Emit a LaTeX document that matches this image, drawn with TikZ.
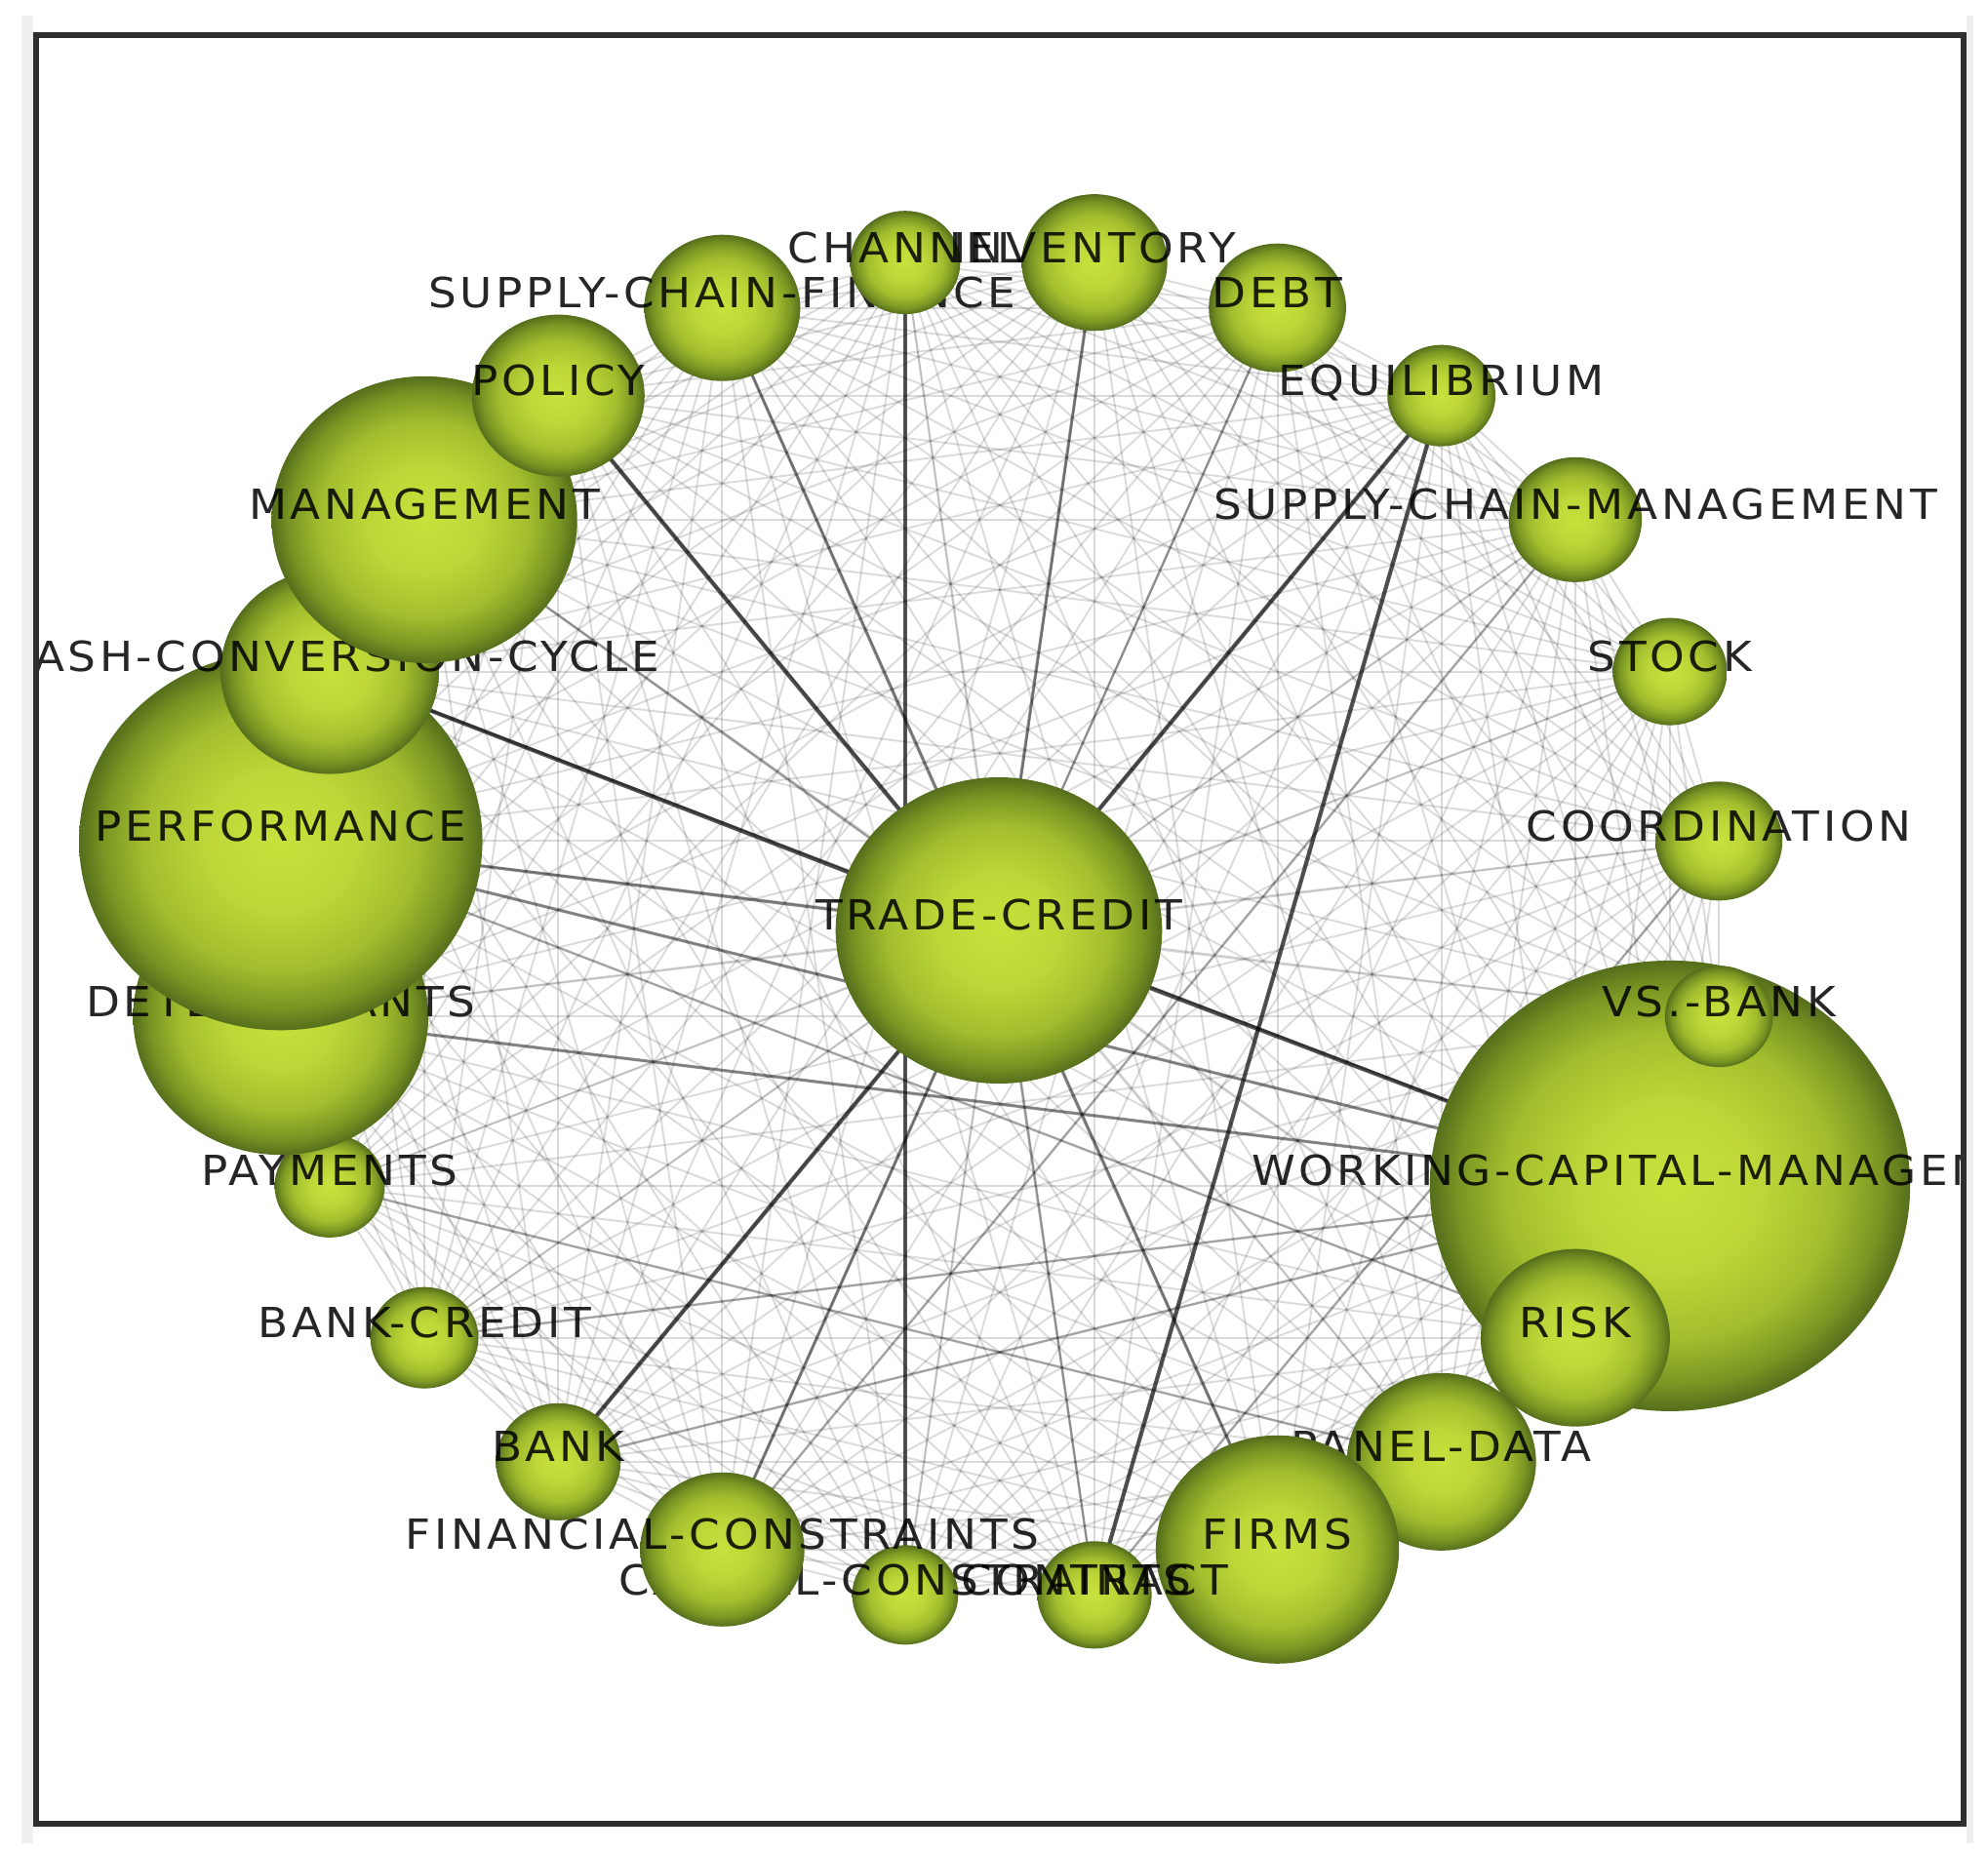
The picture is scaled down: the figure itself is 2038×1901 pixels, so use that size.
\documentclass[tikz,border=0pt]{standalone}
\usepackage{fontspec}
\newfontfamily\labfont{DejaVu Sans}[LetterSpace=8]
\definecolor{bc0}{RGB}{200,225,60}
\definecolor{bc1}{RGB}{190,215,56}
\definecolor{bc2}{RGB}{163,190,46}
\definecolor{bc3}{RGB}{122,150,35}
\definecolor{bc4}{RGB}{86,110,28}
\definecolor{framegray}{RGB}{46,46,46}
\definecolor{stripgray}{RGB}{239,239,239}
\pgfdeclareradialshading{sphereshade}{\pgfpoint{0bp}{0bp}}{color(0bp)=(bc0); color(9bp)=(bc1); color(17bp)=(bc2); color(22bp)=(bc3); color(25bp)=(bc4); color(50bp)=(bc4)}
\newcommand\drawkw[3]{%
  \shade[shading=sphereshade] (#1) ellipse [x radius={#2*0.01065cm}, y radius={#2*0.01cm}];
  \node[lab] (L#1) at (#1) {#3};}
\begin{document}
\begin{tikzpicture}[x=0.01cm,y=-0.01cm,
  lab/.style={font=\labfont\fontsize{12.1pt}{14pt}\selectfont, text=black, text opacity=0.85, anchor=base, inner sep=0pt, xscale=1.065},
  faint/.style={draw=black, draw opacity=0.14, line width=0.55pt},
  midedge/.style={draw=black, draw opacity=0.26, line width=0.7pt},
  strongedge/.style={draw=black, draw opacity=0.42, line width=0.9pt},
  darkedge/.style={draw=black, draw opacity=0.66, line width=1.2pt}]
\useasboundingbox (0,0) rectangle (2038,1901);
\fill[white] (0,0) rectangle (2038,1901);
\fill[stripgray] (22,16) rectangle (34,1890);
\fill[stripgray] (2016,16) rectangle (2023,1890);
\def\cx{1025}\def\cy{952.25}\def\rx{743.6}\def\ry{689}
\coordinate (tc) at (1024,954);
\foreach \n/\a in {wcm/-22.5, risk/-37.5, panel/-52.5, firms/-67.5, contract/-82.5, capcons/-97.5, fincons/-112.5, bank/-127.5, bankcredit/-142.5, payments/-157.5, det/-172.5, perf/172.5, ccc/157.5, mgmt/142.5, policy/127.5, scf/112.5, channel/97.5, inv/82.5, debt/67.5, equil/52.5, scm/37.5, stock/22.5, coord/7.5, vsb/-7.5}
  {\coordinate (\n) at ({\cx+\rx*cos(\a)},{\cy-\ry*sin(\a)});}
\def\allnodes{tc,wcm,risk,panel,firms,contract,capcons,fincons,bank,bankcredit,payments,det,perf,ccc,mgmt,policy,scf,channel,inv,debt,equil,scm,stock,coord,vsb}
\begin{scope}
\clip (40,39) rectangle (2010,1867);
% faint complete graph
\foreach \a [count=\i] in \allnodes {
  \foreach \b [count=\j] in \allnodes {
    \ifnum\i<\j \draw[faint] (\a) -- (\b); \fi
  }
}
% medium edges
\foreach \a/\b in {perf/risk, tc/contract, tc/debt, coord/contract, mgmt/tc, scm/fincons, payments/panel, wcm/bank, ccc/wcm, bankcredit/wcm}
  {\draw[midedge] (\a) -- (\b);}
\foreach \a/\b in {perf/tc, perf/wcm, scf/tc, inv/tc, tc/fincons, tc/firms, det/wcm}
  {\draw[strongedge] (\a) -- (\b);}
\foreach \a/\b in {ccc/tc, tc/equil, equil/contract, tc/bank, tc/wcm, policy/tc, channel/capcons}
  {\draw[darkedge] (\a) -- (\b);}
% balls and labels
\drawkw{tc}{157}{TRADE-CREDIT}
\drawkw{wcm}{231}{WORKING-CAPITAL-MANAGEMENT}
\drawkw{risk}{91}{RISK}
\drawkw{panel}{91}{PANEL-DATA}
\drawkw{firms}{117}{FIRMS}
\drawkw{contract}{55}{CONTRACT}
\drawkw{capcons}{51}{CAPITAL-CONSTRAINTS}
\drawkw{fincons}{79}{FINANCIAL-CONSTRAINTS}
\drawkw{bank}{60}{BANK}
\drawkw{bankcredit}{52}{BANK-CREDIT}
\drawkw{payments}{53}{PAYMENTS}
\drawkw{det}{142}{DETERMINANTS}
\drawkw{perf}{194}{PERFORMANCE}
\drawkw{ccc}{105}{CASH-CONVERSION-CYCLE}
\drawkw{mgmt}{147}{MANAGEMENT}
\drawkw{policy}{83}{POLICY}
\drawkw{scf}{75}{SUPPLY-CHAIN-FINANCE}
\drawkw{channel}{53}{CHANNEL}
\drawkw{inv}{70}{INVENTORY}
\drawkw{debt}{66}{DEBT}
\drawkw{equil}{52}{EQUILIBRIUM}
\drawkw{scm}{64}{SUPPLY-CHAIN-MANAGEMENT}
\drawkw{stock}{55}{STOCK}
\drawkw{coord}{61}{COORDINATION}
\drawkw{vsb}{52}{VS.-BANK}
\end{scope}
\draw[framegray, line width=0.06cm] (37,36) rectangle (2013,1870.5);
\end{tikzpicture}
\end{document}
